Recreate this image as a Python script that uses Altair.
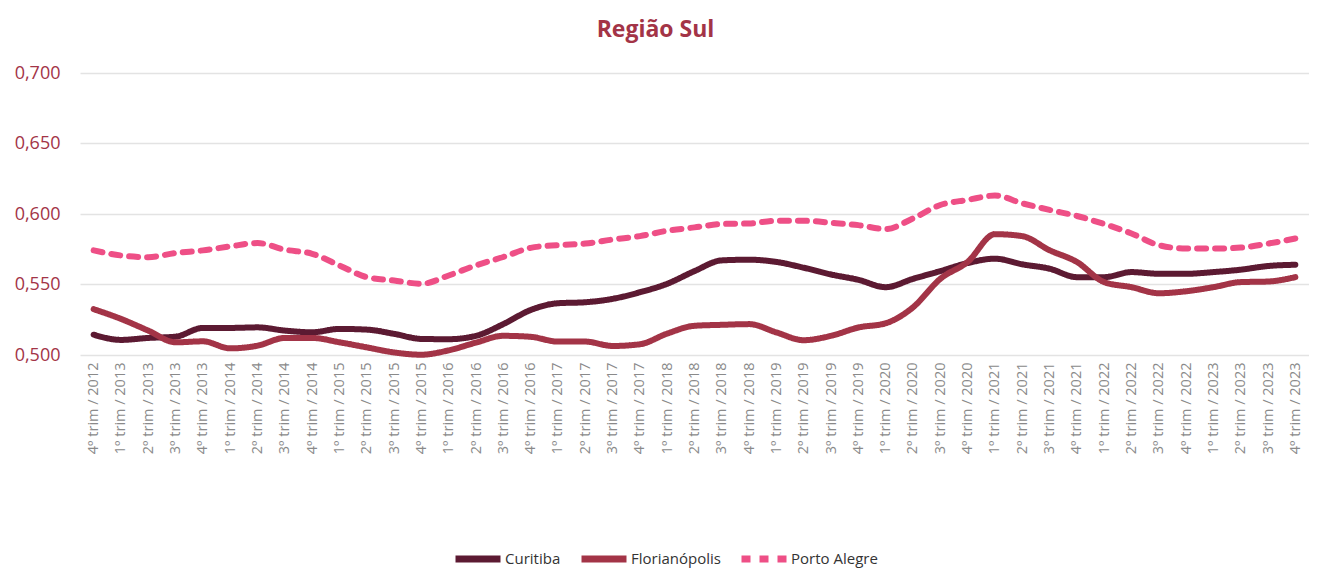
import altair as alt
import pandas as pd

quarters = []
for y in range(2012, 2024):
    for q in range(1, 5):
        if y == 2012 and q < 4:
            continue
        quarters.append(f"{q}º trim / {y}")

curitiba = [0.5144, 0.5107, 0.5121, 0.5130, 0.5192, 0.5192, 0.5196, 0.5173, 0.5161, 0.5185,
            0.5180, 0.5150, 0.5114, 0.5112, 0.5136, 0.5219, 0.5319, 0.5367, 0.5374, 0.5398,
            0.5445, 0.5505, 0.5595, 0.5671, 0.5676, 0.5660, 0.5619, 0.5571, 0.5533, 0.5481,
            0.5540, 0.5595, 0.5652, 0.5683, 0.5643, 0.5612, 0.5552, 0.5552, 0.5588, 0.5576,
            0.5576, 0.5588, 0.5605, 0.5631, 0.5640]
florianopolis = [0.5325, 0.5256, 0.5173, 0.5090, 0.5097, 0.5047, 0.5066, 0.5121, 0.5121, 0.5090,
                 0.5054, 0.5018, 0.5002, 0.5033, 0.5088, 0.5136, 0.5129, 0.5095, 0.5095, 0.5064,
                 0.5076, 0.5152, 0.5207, 0.5214, 0.5219, 0.5160, 0.5105, 0.5136, 0.5195, 0.5225,
                 0.5338, 0.5540, 0.5660, 0.5857, 0.5843, 0.5743, 0.5660, 0.5517, 0.5481, 0.5438,
                 0.5452, 0.5481, 0.5517, 0.5521, 0.5552]
porto_alegre = [0.5742, 0.5706, 0.5694, 0.5723, 0.5742, 0.5770, 0.5794, 0.5747, 0.5718, 0.5635,
                0.5552, 0.5528, 0.5505, 0.5564, 0.5636, 0.5695, 0.5760, 0.5779, 0.5790, 0.5819,
                0.5843, 0.5881, 0.5905, 0.5929, 0.5933, 0.5952, 0.5952, 0.5938, 0.5921, 0.5893,
                0.5969, 0.6064, 0.6100, 0.6131, 0.6076, 0.6029, 0.5986, 0.5929, 0.5862, 0.5779,
                0.5755, 0.5755, 0.5762, 0.5790, 0.5826]

cities = ["Curitiba", "Florianópolis", "Porto Alegre"]
colors = ["#5c1a32", "#a33447", "#ee4f86"]
dashes = [[1, 0], [1, 0], [9, 9]]
y_ticks = [0.5, 0.55, 0.6, 0.65, 0.7]

rows = []
for city, vals in zip(cities, [curitiba, florianopolis, porto_alegre]):
    for q, v in zip(quarters, vals):
        rows.append({"quarter": q, "value": v, "city": city})
df = pd.DataFrame(rows)

FONT = "Open Sans"

legend_cfg = dict(orient="none", legendX=372, legendY=460,
                  direction="horizontal", symbolType="stroke",
                  symbolSize=2025, symbolStrokeWidth=7,
                  labelFontSize=15, labelFont=FONT, labelColor="#333333",
                  labelOffset=1, columnPadding=6)

chart = alt.Chart(df).mark_line(strokeWidth=6, strokeCap="round", strokeJoin="round",
                                 interpolate="monotone").encode(
    x=alt.X("quarter:N", sort=quarters, title=None,
            scale=alt.Scale(padding=0.5),
            axis=alt.Axis(labelAngle=270, labelColor="#8a8a8a", labelFontSize=14.5,
                          labelFont=FONT, ticks=False, domain=False, labelPadding=7,
                          labelOverlap=False)),
    y=alt.Y("value:Q", title=None,
            scale=alt.Scale(domain=[0.5, 0.7], zero=False, nice=False),
            axis=alt.Axis(values=y_ticks, labelColor="#a33447", labelFontSize=18,
                          labelFont=FONT, ticks=False, domain=False, labelPadding=20,
                          gridColor="#e3e3e3", gridWidth=1.5,
                          labelExpr="replace(format(datum.value, '.3f'), '.', ',')")),
    color=alt.Color("city:N", sort=cities, title=None,
                    scale=alt.Scale(domain=cities, range=colors),
                    legend=alt.Legend(**legend_cfg)),
    strokeDash=alt.StrokeDash("city:N", sort=cities, title=None,
                              scale=alt.Scale(domain=cities, range=dashes),
                              legend=alt.Legend(**legend_cfg)),
).properties(
    width=1229, height=282,
    title=alt.TitleParams("Região Sul", color="#a33447", fontSize=23, font=FONT,
                          fontWeight="bold", anchor="middle", dx=-39, offset=22),
    autosize=alt.AutoSizeParams(type="none"),
    padding={"left": 72, "top": 65, "right": 0, "bottom": 218},
).configure_view(stroke=None)

chart.save("out.html", embed_options={"renderer": "svg", "actions": False})
